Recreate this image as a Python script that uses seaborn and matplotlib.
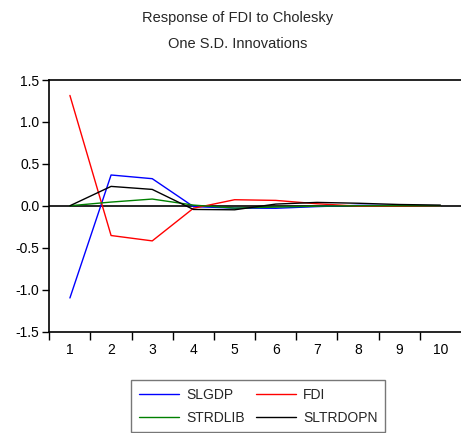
import numpy as np
import pandas as pd
import matplotlib
matplotlib.use("Agg")
import matplotlib.pyplot as plt
import seaborn as sns
from matplotlib.lines import Line2D

periods = [1, 2, 3, 4, 5, 6, 7, 8, 9, 10]
slgdp = [-1.10, 0.367, 0.323, -0.01, -0.028, -0.03, -0.01, 0.005, 0.005, 0.0]
fdi = [1.316, -0.355, -0.419, -0.03, 0.072, 0.064, 0.024, -0.005, -0.005, 0.0]
strdlib = [0.0, 0.044, 0.08, 0.008, -0.028, -0.016, -0.005, 0.0, 0.0, 0.0]
sltrdopn = [0.0, 0.231, 0.195, -0.044, -0.048, 0.02, 0.04, 0.03, 0.015, 0.008]
series_names = ["SLGDP", "FDI", "STRDLIB", "SLTRDOPN"]
series_colors = ["#0000FF", "#FF0000", "#008000", "#000000"]
yticks = [-1.5, -1.0, -0.5, 0.0, 0.5, 1.0, 1.5]

df = pd.DataFrame({
    "period": periods * 4,
    "value": slgdp + fdi + strdlib + sltrdopn,
    "series": sum([[n] * len(periods) for n in series_names], []),
})

sns.set_style("white")
plt.rcParams["font.family"] = ["Liberation Sans", "DejaVu Sans"]

fig = plt.figure(figsize=(4.61, 4.33), dpi=100)
ax = fig.add_axes([0.107, 0.2344, 0.893, 0.5808])

ax.axhline(0, color="black", lw=1.2, zorder=1)
sns.lineplot(data=df, x="period", y="value", hue="series", hue_order=series_names,
             palette=dict(zip(series_names, series_colors)), lw=1.0, ax=ax,
             legend=False, zorder=3)

ax.set_xlim(0.5, 10.5)
ax.set_ylim(-1.5, 1.5)
ax.set_yticks(yticks)
ax.set_yticklabels([f"{v:.1f}" for v in yticks])
ax.set_xticks(periods)
ax.set_xticklabels([str(p) for p in periods])
ax.set_xticks([p + 0.5 for p in [0] + periods[:-1]], minor=True)
ax.tick_params(axis="x", which="major", length=0, labelsize=10, pad=8, colors="black")
ax.tick_params(axis="x", which="minor", length=6, width=1, direction="out", bottom=True, color="black")
ax.tick_params(axis="y", length=5, width=1, direction="out", left=True, labelsize=10, pad=2, colors="black")
ax.set_xlabel("")
ax.set_ylabel("")
for s in ["left", "bottom", "top"]:
    ax.spines[s].set_color("black")
    ax.spines[s].set_linewidth(1.2)
ax.spines["right"].set_visible(False)

fig.text(0.515, 0.958, "Response of FDI to Cholesky", ha="center", va="center", fontsize=10.5)
fig.text(0.515, 0.898, "One S.D. Innovations", ha="center", va="center", fontsize=10.5)

order = [0, 2, 1, 3]
handles = [Line2D([0], [0], color=series_colors[i], lw=1.0) for i in order]
labels = [series_names[i] for i in order]
leg = fig.legend(handles, labels, ncol=2, loc="upper left",
                 bbox_to_anchor=(0.2842, 0.1224), borderaxespad=0, fontsize=10,
                 frameon=True, fancybox=False, handlelength=2.9, columnspacing=0.8,
                 handletextpad=0.5, borderpad=0.55, labelspacing=0.65)
leg.get_frame().set_edgecolor("#555555")
leg.get_frame().set_linewidth(1.0)

fig.savefig("out.png", dpi=100)
